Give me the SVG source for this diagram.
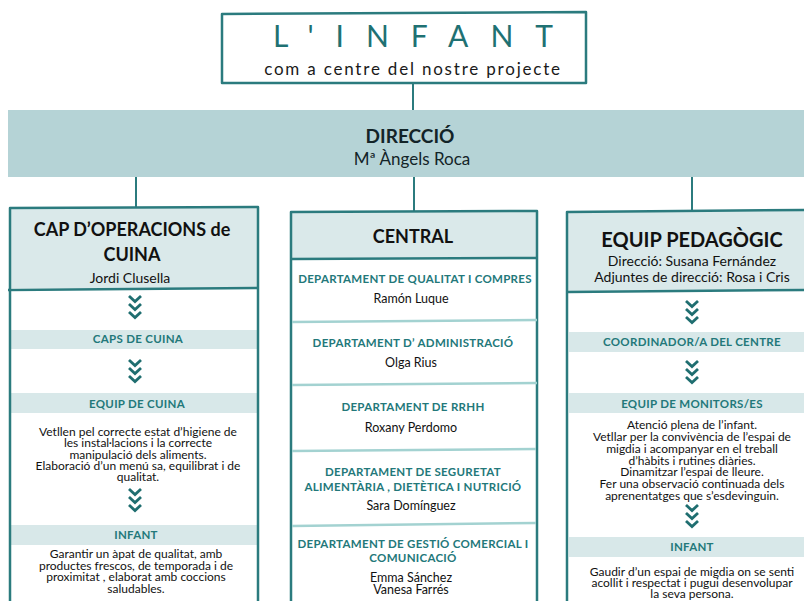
<svg xmlns="http://www.w3.org/2000/svg" width="804" height="601" viewBox="0 0 804 601">
<style>
.bd{fill:none;stroke:#2b7b7e;stroke-width:2.5;stroke-linejoin:round}
.hd{fill:#dae9ea}
.bnd{fill:#d8e8e9}
.sep{stroke:#a3d2d1;stroke-width:2.5}
.cn{stroke:#2b7b7e;stroke-width:2}
text{font-family:Lato,"Open Sans","DejaVu Sans",sans-serif;text-anchor:middle}
.t1{font-size:30px;fill:#1f7173;letter-spacing:22px}
.t2{font-size:17px;fill:#1a1a1a;letter-spacing:1.8px}
.h{font-size:18px;font-weight:bold;fill:#111}
.n{font-size:14px;fill:#111}
.b{font-size:11.5px;font-weight:bold;fill:#23787a;letter-spacing:0.3px}
.p{font-size:12px;fill:#111}
.nm{font-size:12.5px;fill:#111}
.chev{fill:none;stroke:#1f6e70;stroke-width:2.8}
</style>
<defs>
<g id="chv"><path class="chev" d="M-6,0 L0,5.5 L6,0 M-6,8 L0,13.5 L6,8 M-6,16 L0,21.5 L6,16"/></g>
</defs>

<g id="connectors">
<line class="cn" x1="413" y1="83" x2="413" y2="111"/>
<line class="cn" x1="136" y1="177" x2="136" y2="208"/>
<line class="cn" x1="414" y1="177" x2="414" y2="212"/>
<line class="cn" x1="692" y1="177" x2="692" y2="212"/>
</g>

<g id="title">
<path class="bd" d="M222,14 L586,12 L586,83 L222,83 Z"/>
<text class="t1" x="424" y="47">L'INFANT</text>
<text class="t2" x="413" y="75">com a centre del nostre projecte</text>
</g>

<g id="direccio">
<rect x="8" y="110" width="796" height="67" fill="#b5d3d6"/>
<text x="410" y="143" style="font-size:19px;font-weight:bold;fill:#132428">DIRECCIÓ</text>
<text x="412" y="165" style="font-size:17px;fill:#132428">Mª Àngels Roca</text>
</g>

<g id="cap-operacions">
<rect class="hd" x="10" y="208" width="248" height="80"/>
<rect class="bnd" x="11" y="330" width="246" height="19"/>
<rect class="bnd" x="11" y="393" width="246" height="20"/>
<rect class="bnd" x="11" y="525" width="246" height="20"/>
<path class="bd" d="M10,603 L10,208 L258,207 L258,603"/>
<path class="bd" d="M8,290 L258,288"/>
<text class="h" x="132" y="236">CAP D’OPERACIONS de</text>
<text class="h" x="132" y="261">CUINA</text>
<text class="n" x="130" y="283">Jordi Clusella</text>
<use href="#chv" x="135" y="296"/>
<text class="b" x="138" y="343">CAPS DE CUINA</text>
<use href="#chv" x="135" y="360"/>
<text class="b" x="137" y="408">EQUIP DE CUINA</text>
<text class="p" x="138" y="436">Vetllen pel correcte estat d’higiene de</text>
<text class="p" x="138" y="447.3">les instal·lacions i la correcte</text>
<text class="p" x="138" y="458.5">manipulació dels aliments.</text>
<text class="p" x="138" y="469.8">Elaboració d’un menú sa, equilibrat i de</text>
<text class="p" x="138" y="481">qualitat.</text>
<use href="#chv" x="135" y="489"/>
<text class="b" x="136" y="539">INFANT</text>
<text class="p" x="136" y="558">Garantir un àpat de qualitat, amb</text>
<text class="p" x="136" y="569.5">productes frescos, de temporada i de</text>
<text class="p" x="136" y="581">proximitat , elaborat amb coccions</text>
<text class="p" x="136" y="592.5">saludables.</text>
</g>

<g id="central">
<rect class="hd" x="291" y="212" width="246" height="47"/>
<path class="bd" d="M291,603 L291,212 L537,211 L537,603"/>
<path class="bd" d="M291,259 L537,258"/>
<line class="sep" x1="292" y1="322" x2="537" y2="320"/>
<line class="sep" x1="292" y1="385" x2="537" y2="383"/>
<line class="sep" x1="292" y1="451" x2="536" y2="449"/>
<line class="sep" x1="292" y1="526" x2="536" y2="523"/>
<text class="h" x="413" y="243">CENTRAL</text>
<text class="b" x="415" y="283">DEPARTAMENT DE QUALITAT I COMPRES</text>
<text class="nm" x="411" y="303">Ramón Luque</text>
<text class="b" x="413" y="347">DEPARTAMENT D’ ADMINISTRACIÓ</text>
<text class="nm" x="411" y="367">Olga Rius</text>
<text class="b" x="413" y="411">DEPARTAMENT DE RRHH</text>
<text class="nm" x="411" y="432">Roxany Perdomo</text>
<text class="b" x="413" y="476">DEPARTAMENT DE SEGURETAT</text>
<text class="b" x="413" y="491">ALIMENTÀRIA , DIETÈTICA I NUTRICIÓ</text>
<text class="nm" x="411" y="510">Sara Domínguez</text>
<text class="b" x="413" y="548">DEPARTAMENT DE GESTIÓ COMERCIAL I</text>
<text class="b" x="413" y="562">COMUNICACIÓ</text>
<text class="nm" x="411" y="582">Emma Sánchez</text>
<text class="nm" x="411" y="594">Vanesa Farrés</text>
</g>

<g id="equip-pedagogic">
<rect class="hd" x="567" y="211" width="240" height="80"/>
<rect class="bnd" x="569" y="332" width="236" height="20"/>
<rect class="bnd" x="569" y="393" width="236" height="20"/>
<rect class="bnd" x="569" y="537" width="236" height="20"/>
<path class="bd" d="M567,603 L567,212 L806,210"/>
<path class="bd" d="M567,292 L806,290"/>
<text class="h" x="692" y="247" style="font-size:20px">EQUIP PEDAGÒGIC</text>
<text class="n" x="692" y="266">Direcció: Susana Fernández</text>
<text class="n" x="692" y="282">Adjuntes de direcció: Rosa i Cris</text>
<use href="#chv" x="692" y="301"/>
<text class="b" x="692" y="346">COORDINADOR/A DEL CENTRE</text>
<use href="#chv" x="692" y="361"/>
<text class="b" x="692" y="408">EQUIP DE MONITORS/ES</text>
<text class="p" x="692" y="429">Atenció plena de l’infant.</text>
<text class="p" x="692" y="440.8">Vetllar per la convivència de l’espai de</text>
<text class="p" x="692" y="452.7">migdia i acompanyar en el treball</text>
<text class="p" x="692" y="464.5">d’hàbits i rutines diàries.</text>
<text class="p" x="692" y="476.3">Dinamitzar l’espai de lleure.</text>
<text class="p" x="692" y="488.2">Fer una observació continuada dels</text>
<text class="p" x="692" y="500">aprenentatges que s’esdevinguin.</text>
<use href="#chv" x="692" y="505"/>
<text class="b" x="692" y="551">INFANT</text>
<text class="p" x="692" y="576">Gaudir d’un espai de migdia on se senti</text>
<text class="p" x="692" y="587">acollit i respectat i pugui desenvolupar</text>
<text class="p" x="692" y="598">la seva persona.</text>
</g>
</svg>
